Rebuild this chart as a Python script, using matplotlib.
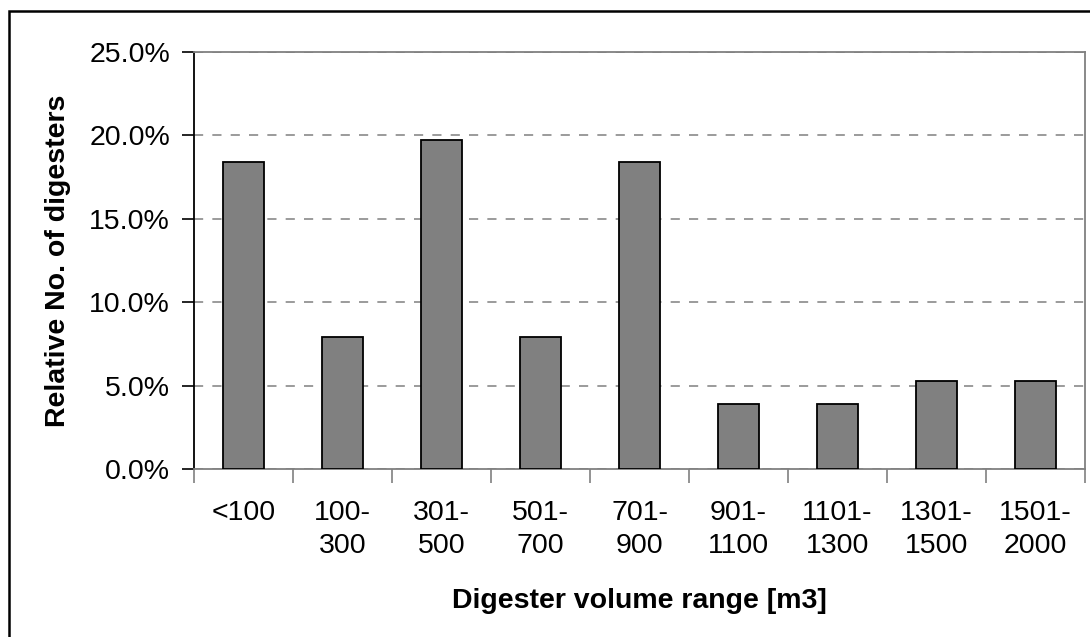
import matplotlib.pyplot as plt
from matplotlib.patches import Rectangle
from matplotlib.ticker import FuncFormatter, MultipleLocator

plt.rcParams['font.family'] = ['Liberation Sans', 'DejaVu Sans']

# data
categories = ["<100", "100-\n300", "301-\n500", "501-\n700", "701-\n900",
              "901-\n1100", "1101-\n1300", "1301-\n1500", "1501-\n2000"]
shares = [18.4, 7.9, 19.7, 7.9, 18.4, 3.9, 3.9, 5.3, 5.3]

fig = plt.figure(figsize=(10.9, 6.37), dpi=100)
ax = fig.add_axes([0.178, 0.2637, 0.8174, 0.6547])

# outer chart border (runs past the right and bottom edge of the picture)
fig.patches.append(Rectangle((9 / 1090, -0.1), 1.2, (637 - 11) / 637 + 0.1,
                             transform=fig.transFigure, fill=False,
                             edgecolor="black", linewidth=1.8, zorder=0))

x = range(len(categories))
ax.bar(x, shares, width=0.42, color="#808080", edgecolor="black",
       linewidth=1.3, zorder=3)

ax.set_xlim(-0.5, len(categories) - 0.5)
ax.set_ylim(0, 25)
ax.yaxis.set_major_locator(MultipleLocator(5))
ax.yaxis.set_major_formatter(FuncFormatter(lambda v, p: f"{v:.1f}%"))
ax.grid(axis="y", color="#808080", linestyle=(0, (6, 6)), linewidth=1.1, zorder=0)

# category ticks at the boundaries, labels in the middle
ax.set_xticks([i - 0.5 for i in range(len(categories) + 1)])
ax.set_xticklabels([])
ax.set_xticks(list(x), minor=True)
ax.set_xticklabels(categories, minor=True, fontsize=20.5, linespacing=1.38)
ax.tick_params(axis="x", which="major", length=10, width=1.2, color="#808080",
               direction="out")
ax.tick_params(axis="x", which="minor", length=0, pad=22)
ax.tick_params(axis="y", length=9, width=1.2, direction="out", labelsize=20.5,
               pad=8.3)

for s in ["top", "right"]:
    ax.spines[s].set_color("#808080")
    ax.spines[s].set_linewidth(1.3)
ax.spines["bottom"].set_color("#808080")
ax.spines["bottom"].set_linewidth(1.3)
ax.spines["left"].set_color("black")
ax.spines["left"].set_linewidth(1.3)

ax.set_xlabel("Digester volume range [m3]", fontsize=20.5, fontweight="bold",
              labelpad=21)
ax.set_ylabel("Relative No. of digesters", fontsize=20.5, fontweight="bold",
              labelpad=13)

fig.savefig("out.png", dpi=100)
